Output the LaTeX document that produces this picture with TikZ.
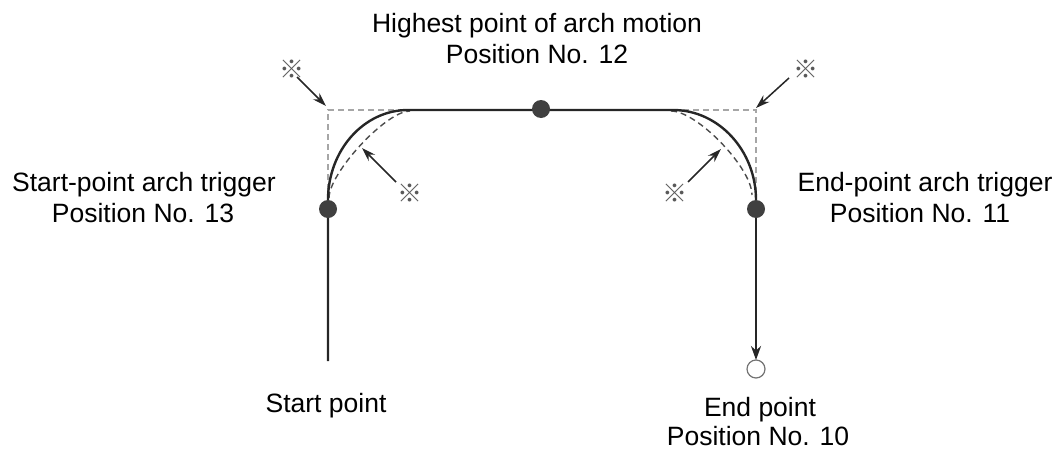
\documentclass[tikz,border=0pt]{standalone}
\usepackage{fontspec}
\setmainfont{Liberation Sans}
\newfontfamily\refmark{Noto Sans CJK JP}
\usetikzlibrary{arrows.meta}
\begin{document}
\begin{tikzpicture}[x=1pt,y=-1pt,
  lbl/.style={font=\fontsize{26.5}{31}\selectfont, anchor=base, inner sep=0pt},
  rm/.style={font=\refmark\fontsize{25}{25}\selectfont, text=black!65, inner sep=0pt},
  dot/.style={circle, fill=black!75, draw=none, minimum size=18pt, inner sep=0pt},
  mainpath/.style={line width=2.4pt, draw=black!85},
  guide/.style={dash pattern=on 6pt off 4pt, draw=black!35, line width=1.2pt},
  innercurve/.style={dash pattern=on 6pt off 4pt, draw=black!70, line width=1.4pt},
  pointer/.style={line width=1.5pt, draw=black!85, -{Stealth[length=14pt,width=9pt]}}]
\useasboundingbox (0,0) rectangle (1054,450);
% coordinates
\coordinate (s) at (328,361);
\coordinate (la) at (328,200);
\coordinate (lb) at (408,110);
\coordinate (ra) at (673,110);
\coordinate (rb) at (756,200);
\coordinate (eTip) at (756,360);
\coordinate (lc) at (328,110);
\coordinate (rc) at (756,110);
% guide lines
\draw[guide] (la) -- (lc) -- (lb);
\draw[guide] (ra) -- (rc) -- (rb);
% inner dashed curves
\draw[innercurve] (329,198) .. controls (329,173) and (386,111) .. (410,111);
\draw[innercurve] (671,111) .. controls (697,111) and (752,168) .. (752,195);
% main path
\draw[mainpath] (s) -- (la) .. controls (328,150.3) and (363.8,110) .. (lb) -- (ra)
  .. controls (718.8,110) and (756,150.8) .. (rb);
\draw[mainpath, -{Stealth[length=14pt,width=10pt]}] (rb) -- (eTip);
% dots
\node[dot] (p13) at (328,209) {};
\node[dot] (p12) at (541,109) {};
\node[dot] (p11) at (756,209) {};
\node[circle, draw=black!55, fill=white, line width=1.2pt, minimum size=18pt, inner sep=0pt] (p10) at (756,369) {};
% labels
\node[lbl] (t12a) at (537,32) {Highest point of arch motion};
\node[lbl] (t12b) at (537,63) {Position No. 12};
\node[lbl] (t13a) at (144,191) {Start-point arch trigger};
\node[lbl] (t13b) at (143,222) {Position No. 13};
\node[lbl] (t11a) at (925,191) {End-point arch trigger};
\node[lbl] (t11b) at (920,222) {Position No. 11};
\node[lbl] (ts) at (326,412) {Start point};
\node[lbl] (t10a) at (760,416) {End point};
\node[lbl] (t10b) at (758,445) {Position No. 10};
% reference marks and pointers
\node[rm] (m1) at (292,69) {※};
\node[rm] (m2) at (410,193) {※};
\node[rm] (m3) at (806,69) {※};
\node[rm] (m4) at (675,193) {※};
\coordinate (c1) at (326,106);
\coordinate (c2) at (362,148);
\coordinate (c3) at (756,108);
\coordinate (c4) at (721,149);
\draw[pointer] (m1) ++(5,8) -- (c1);
\draw[pointer] (m2) ++(-14,-11) -- (c2);
\draw[pointer] (m3) ++(-17,9) -- (c3);
\draw[pointer] (m4) ++(13,-11) -- (c4);
\end{tikzpicture}
\end{document}
